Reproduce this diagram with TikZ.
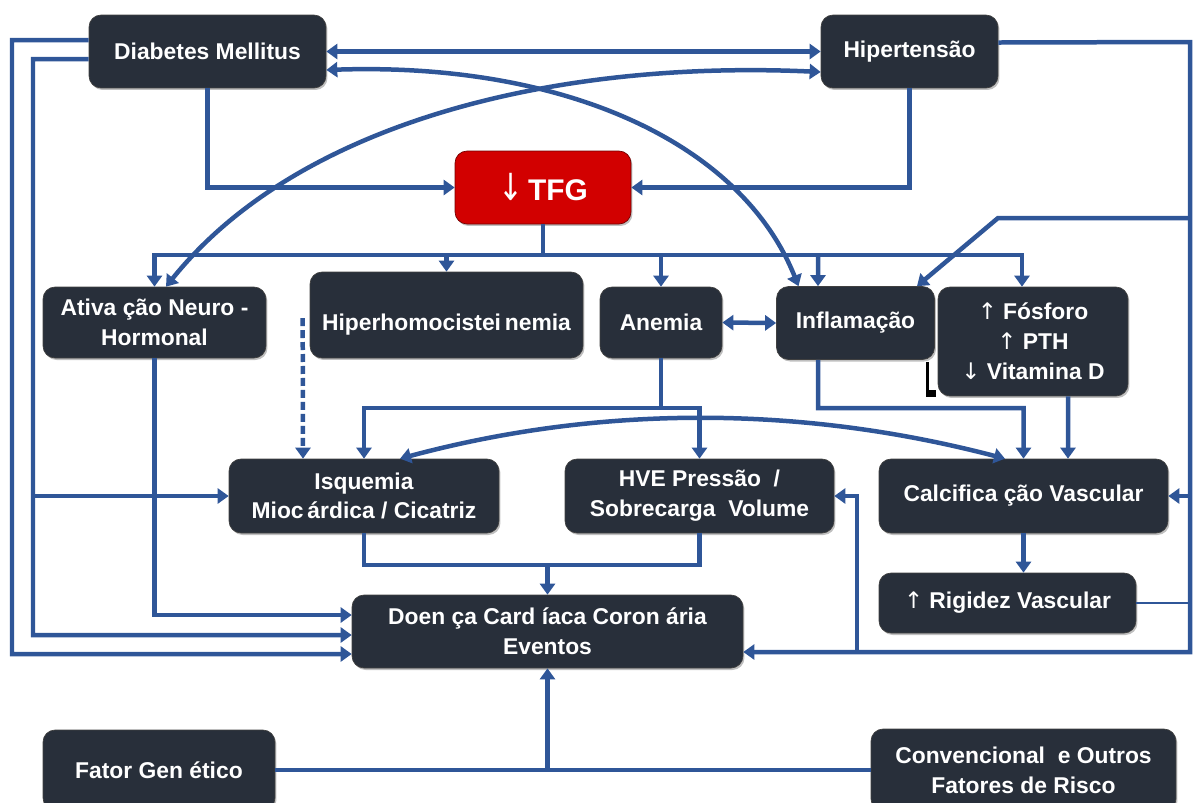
\documentclass[tikz,border=0pt]{standalone}
\usepackage{fontspec}
\setmainfont{Liberation Sans}
\newfontfamily\arrowfont{DejaVu Sans}
\usetikzlibrary{arrows.meta,shadows}

\definecolor{linkblue}{RGB}{47,86,152}
\definecolor{boxgray}{RGB}{40,47,58}
\definecolor{tfgred}{RGB}{210,0,0}

\newcommand{\uparr}{{\arrowfont\mdseries ↑}}
\newcommand{\dnarr}{{\arrowfont\mdseries ↓}}

\tikzset{
    box/.style={draw=black!75, fill=boxgray, rounded corners=0.24cm, text=white,
        align=center, inner sep=0pt, font=\bfseries\fontsize{13}{17}\selectfont,
        drop shadow={shadow xshift=0.03cm, shadow yshift=-0.04cm, opacity=0.5}},
    tfgbox/.style={box, fill=tfgred, draw=red!45!black, font=\bfseries\fontsize{17}{20}\selectfont},
    link/.style={draw=linkblue, line width=0.09cm, >={Triangle[length=0.22cm,width=0.3cm]}, ->},
    twoway/.style={link, <->},
    trunk/.style={link, -},
}

\begin{document}
\begin{tikzpicture}[x=0.02cm, y=-0.02cm]
    \useasboundingbox (0,0) rectangle (1194,802);

    % these are the boxes
    \node[box, minimum width=4.74cm, minimum height=1.46cm] (dm) at (207.5,51.5) {Diabetes Mellitus};
    \node[box, minimum width=3.54cm, minimum height=1.46cm] (hip) at (909.5,51.5) {Hipertensão};
    \node[tfgbox, minimum width=3.52cm, minimum height=1.46cm] (tfg) at (543,187.5) {\scalebox{1}[1.25]{\dnarr}\,TFG};
    \node[box, minimum width=4.46cm, minimum height=1.42cm] (neuro) at (154.5,322.5) {Ativa ção Neuro -\\Hormonal};
    \node[box, minimum width=5.46cm, minimum height=1.72cm] (hhc) at (446.5,315) {\raisebox{-0.3cm}[0pt][0pt]{Hiperhomocistei\,nemia}};
    \node[box, minimum width=2.44cm, minimum height=1.42cm] (anem) at (661,322.5) {Anemia};
    \node[box, minimum width=3.16cm, minimum height=1.46cm] (infl) at (855.5,323) {Inflamação};
    \node[box, minimum width=3.8cm, minimum height=2.18cm] (fosf) at (1033,341.5) {\uparr\ Fósforo\\\uparr\ PTH\\\dnarr\ Vitamina D};
    \node[box, minimum width=5.4cm, minimum height=1.48cm] (isq) at (364,496) {Isquemia\\Mioc\,árdica / Cicatriz};
    \node[box, minimum width=5.38cm, minimum height=1.48cm] (hve) at (699.5,496) {HVE Pressão ~/\\Sobrecarga ~Volume};
    \node[box, minimum width=5.78cm, minimum height=1.48cm] (calc) at (1023.5,496) {Calcifica ção Vascular};
    \node[box, minimum width=5.14cm, minimum height=1.2cm] (rig) at (1007.5,603) {\uparr\ Rigidez Vascular};
    \node[box, minimum width=7.82cm, minimum height=1.46cm] (dcc) at (547.5,631.5) {Doen ça Card íaca Coron ária\\Eventos};
    \node[box, minimum width=4.64cm, minimum height=1.6cm] (gen) at (159,770) {Fator Gen ético};
    \node[box, minimum width=6.1cm, minimum height=1.64cm] (conv) at (1023.5,770) {Convencional ~e Outros\\Fatores de Risco};

    % small black mark beside the mineral box
    \fill[black] (926,362) rectangle (929,397);
    \fill[black] (926,390) rectangle (936,397);

    % joints of the branching lines
    \coordinate (tbus) at (543,255);
    \coordinate (abus) at (661,408);
    \coordinate (dbus) at (547,565);
    \coordinate (lrail) at (33,0);
    \coordinate (rail) at (1190,0);

    % diabetes and hypertension
    \draw[twoway] (dm.east) -- (hip.west);
    \draw[twoway] ([yshift=-0.37cm]dm.east) .. controls (560,62) and (740,140) .. ([xshift=-1.14cm]infl.north);
    \draw[twoway] ([yshift=-0.41cm]hip.west) .. controls (560,60) and (300,120) .. ([xshift=0.23cm]neuro.north);
    \draw[link] (dm.south) |- (tfg.west);
    \draw[link] (hip.south) |- (tfg.east);

    % left rails
    \draw[link] ([yshift=0.23cm]dm.west) -- (12,40) -- (12,654) -- ([yshift=-0.45cm]dcc.west);
    \draw[link] ([yshift=-0.15cm]dm.west) -- (33,59) -- (33,635) -- ([yshift=-0.07cm]dcc.west);
    \draw[link] (lrail |- isq.west) -- (isq.west);
    \draw[link] (neuro.south) |- ([yshift=0.33cm]dcc.west);

    % tfg bus
    \draw[trunk] (tfg.south) -- (tbus);
    \draw[link] (tbus) -| (neuro.north);
    \draw[link] (tbus) -| ([xshift=-0.22cm]fosf.north);
    \draw[link] (tbus -| hhc.north) -- (hhc.north);
    \draw[link] (tbus -| anem.north) -- (anem.north);
    \draw[link] (818,255) -- ([xshift=-0.75cm]infl.north);

    % right rail from hypertension
    \draw[link] ([yshift=0.18cm]hip.east) -- (1190,42) -- (1190,652) -- ([yshift=-0.41cm]dcc.east);
    \draw[link] (1190,218) -- (998,218) -- ([xshift=1.23cm]infl.north);
    \draw[link] (rail |- calc.east) -- (calc.east);
    \draw[link] (857,652) |- (hve.east);
    \draw[draw=linkblue, line width=0.03cm] (rig.east) -- (rig.east -| rail);

    % anemia
    \draw[twoway] (anem.east) -- (infl.west);
    \draw[trunk] (anem.south) -- (abus);
    \draw[link] (abus) -| (isq.north);
    \draw[link] (abus) -| (hve.north);
    \draw[link, dash pattern=on 0.16cm off 0.08cm] ([xshift=-0.14cm,yshift=-0.06cm]hhc.west) -- ([xshift=-1.22cm]isq.north);

    % calcification
    \draw[twoway] ([xshift=0.72cm]isq.north) .. controls (600,405) and (800,405) .. ([xshift=-0.37cm]calc.north);
    \draw[link] ([xshift=-0.75cm]infl.south) -- (818,408) -| (calc.north);
    \draw[link] ([xshift=0.7cm]fosf.south) -- ([xshift=0.89cm]calc.north);
    \draw[link] (calc.south) -- (calc.south |- rig.north);

    % into the coronary box
    \draw[trunk] (isq.south) |- (dbus) -| (hve.south);
    \draw[link] (dcc.north |- dbus) -- (dcc.north);
    \draw[trunk] (gen.east) -- (conv.west);
    \draw[link] (dcc.south |- gen.east) -- (dcc.south);

\end{tikzpicture}
\end{document}
